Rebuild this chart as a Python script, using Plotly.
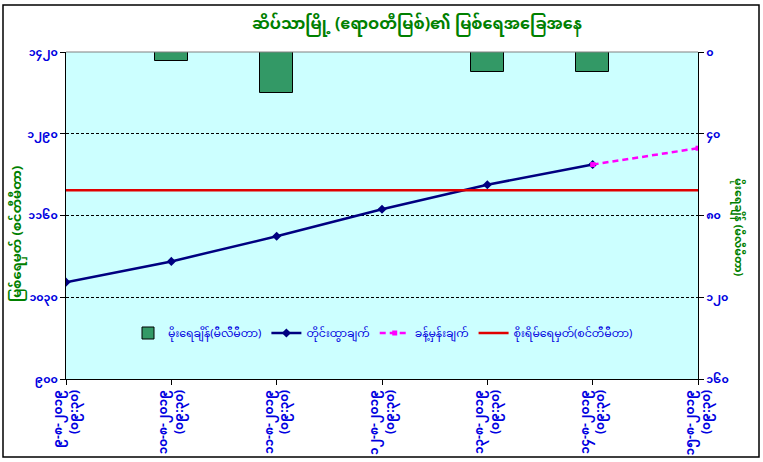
import plotly.graph_objects as go

# ---------------- data ----------------
dates = ["၉-၈-၂၀၁၉", "၁၀-၈-၂၀၁၉", "၁၁-၈-၂၀၁၉", "၁၂-၈-၂၀၁၉",
         "၁၃-၈-၂၀၁၉", "၁၄-၈-၂၀၁၉", "၁၅-၈-၂၀၁၉"]
times = ["(၀၉:၃၀)"] * 7
categories = [f"<b>{d}</b><br><b>{t}</b>" for d, t in zip(dates, times)]

rainfall_mm = [0, 4.6, 20, 0, 10, 10, 0]                 # right axis (reversed)
observed = [1054, 1087, 1127, 1170, 1209, 1241, None]     # left axis
forecast = [None, None, None, None, None, 1241, 1267]
warning_level = [1200, 1200, 1200, 1200, 1200, 1200, 1200]

left_ticks = [900, 1030, 1160, 1290, 1420]
left_ticktext = ["၉၀၀", "၁၀၃၀", "၁၁၆၀", "၁၂၉၀", "၁၄၂၀"]
right_ticks = [0, 40, 80, 120, 160]
right_ticktext = ["၀", "၄၀", "၈၀", "၁၂၀", "၁၆၀"]

title_text = "ဆိပ်သာမြို့ (ဧရာဝတီမြစ်)၏ မြစ်ရေအခြေအနေ"
left_title = "မြစ်ရေမှတ် (စင်တီမီတာ)"
right_title = "မိုးရေချိန် (မီလီမီတာ)"
names = ["မိုးရေချိန်(မီလီမီတာ)", "တိုင်းထွာချက်", "ခန့်မှန်းချက်", "စိုးရိမ်ရေမှတ်(စင်တီမီတာ)"]

FONT = "Noto Sans Myanmar, Padauk, Myanmar Text, Noto Sans, DejaVu Sans, sans-serif"
BLUE = "#0000E0"
GREEN = "#008000"

fig = go.Figure()
fig.add_trace(go.Bar(x=categories, y=rainfall_mm, name=names[0], yaxis="y2",
                     marker=dict(color="#339966", line=dict(color="#000000", width=1)),
                     width=0.31, base=0))
fig.add_trace(go.Scatter(x=categories, y=observed, name=names[1], mode="lines+markers",
                         line=dict(color="#000080", width=2.5),
                         marker=dict(symbol="diamond", size=7, color="#000080")))
fig.add_trace(go.Scatter(x=categories, y=forecast, name=names[2], mode="lines+markers",
                         line=dict(color="#FF00FF", width=2.5, dash="6px,4px"),
                         marker=dict(symbol="square", size=5, color="#FF00FF")))
fig.add_trace(go.Scatter(x=categories, y=warning_level, name=names[3], mode="lines",
                         line=dict(color="#E00000", width=2.5)))

# plot area geometry (px)
L, R, T, B = 66, 698, 52, 379
W, H = R - L, B - T
def px(x):
    return (x - L) / W
def py(y):
    return (B - y) / H

fig.update_layout(
    width=763, height=462,
    margin=dict(l=L, r=763 - R, t=T, b=462 - B, autoexpand=False),
    paper_bgcolor="#FFFFFF",
    plot_bgcolor="#CCFFFF",
    font=dict(family=FONT, color=BLUE, size=11),
    showlegend=True,
    legend=dict(orientation="h", x=px(128), y=py(333), xanchor="left", yanchor="middle",
                bgcolor="rgba(0,0,0,0)", font=dict(size=11, color=BLUE),
                itemwidth=30, tracegroupgap=0),
    bargap=0,
    xaxis=dict(type="category", range=[0, 6], showline=True, linecolor="black",
               linewidth=1, ticks="outside", ticklen=5, tickcolor="black",
               tickangle=-90, tickfont=dict(size=12, color=BLUE, family=FONT),
               showgrid=False, zeroline=False, mirror=False, automargin=False),
    yaxis=dict(range=[900, 1420], tickvals=left_ticks,
               ticktext=[f"<b>{t}</b>" for t in left_ticktext],
               showline=True, linecolor="black", linewidth=1, ticks="outside",
               ticklen=5, tickcolor="black", tickfont=dict(size=11, color=BLUE),
               showgrid=True, gridcolor="black", gridwidth=1, griddash="3px,2px",
               zeroline=False, automargin=False),
    yaxis2=dict(range=[160, 0], overlaying="y", side="right",
                tickvals=right_ticks, ticktext=[f"<b>{t}</b>" for t in right_ticktext],
                showline=True, linecolor="black", linewidth=1, ticks="outside",
                ticklen=5, tickcolor="black", tickfont=dict(size=11, color=BLUE),
                showgrid=False, zeroline=False, automargin=False),
    annotations=[
        dict(text=f"<b>{title_text}</b>", x=px(417), y=py(25), xref="paper", yref="paper",
             xanchor="center", yanchor="middle",
             showarrow=False, font=dict(size=16, color=GREEN, family=FONT)),
        dict(text=f"<b>{left_title}</b>", x=px(18), y=py(234), xref="paper", yref="paper",
             xanchor="center", yanchor="middle",
             showarrow=False, textangle=-90, font=dict(size=13, color=GREEN, family=FONT)),
        dict(text=f"<b>{right_title}</b>", x=px(738), y=py(228), xref="paper", yref="paper",
             xanchor="center", yanchor="middle",
             showarrow=False, textangle=90, font=dict(size=11, color=GREEN, family=FONT)),
    ],
    shapes=[
        dict(type="line", xref="paper", yref="paper", x0=0, x1=1, y0=1, y1=1,
             line=dict(color="#808080", width=1)),
        dict(type="rect", xref="paper", yref="paper", x0=px(3), x1=px(759),
             y0=py(5), y1=py(457), line=dict(color="black", width=1.5)),
    ],
)

fig.write_html("out.html", config={"displayModeBar": False},
               post_script="document.body.style.margin='0';document.body.style.overflow='hidden';")
